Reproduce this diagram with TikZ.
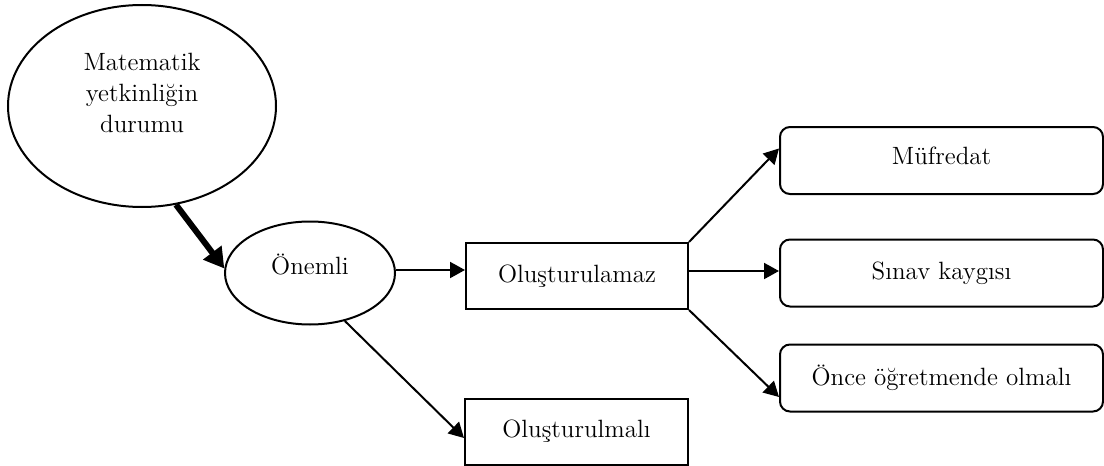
\documentclass[tikz,border=0pt]{standalone}
\usetikzlibrary{arrows.meta,shapes.geometric,calc}
\begin{document}
\begin{tikzpicture}[x=0.5pt,y=-0.5pt,
  every node/.style={font=\fontsize{12.5}{15.5}\selectfont, line width=1pt, draw, inner sep=0pt},
  oval/.style={ellipse},
  sqbox/.style={rectangle, minimum width=111pt, minimum height=33pt},
  rbox/.style={rectangle, rounded corners=5pt, minimum width=161.5pt, minimum height=33.5pt},
  link/.style={line width=1pt, -{Triangle[length=7.5pt,width=8pt]}},
  boldlink/.style={line width=3pt, -{Triangle[length=10pt,width=11pt]}}]
\useasboundingbox (0,0) rectangle (1104,466);

% starting concept and the central question
\node[oval, minimum width=134pt, minimum height=101pt, align=center] (mat) at (142,106)
  {Matematik\\yetkinliğin\\durumu\rule[-13pt]{0pt}{0pt}};
\node[oval, minimum width=85pt, minimum height=51.5pt] (on) at (310,273)
  {Önemli\rule[-9pt]{0pt}{0pt}};

% the two answers
\node[sqbox] (oz) at (577,276) {Oluşturulamaz};
\node[sqbox, minimum width=111.5pt] (ol) at (576.5,431.5) {Oluşturulmalı};

% reasons
\node[rbox] (muf) at (941.5,160.5) {Müfredat\rule[-5pt]{0pt}{0pt}};
\node[rbox] (sk) at (941.5,273) {Sınav kaygısı};
\node[rbox] (onc) at (941.5,378) {Önce öğretmende olmalı};

% connectors
\draw[boldlink] (mat.-71) -- (on.177);
\coordinate (a) at ([yshift=1.5pt]on.east);
\draw[link] (a) -- (a -| oz.west);
\draw[link] (on.-54) -- ([yshift=-3.25pt]ol.west);
\draw[link] (oz.north east) -- ([yshift=6pt]muf.west);
\coordinate (b) at ([yshift=2.5pt]oz.east);
\draw[link] (b) -- (b -| sk.west);
\draw[link] (oz.south east) -- ([yshift=-9.5pt]onc.west);
\end{tikzpicture}
\end{document}
